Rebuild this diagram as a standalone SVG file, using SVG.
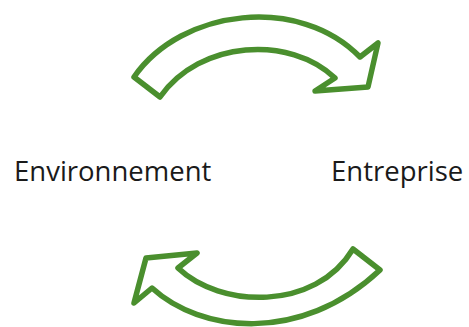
<svg xmlns="http://www.w3.org/2000/svg" width="469" height="327" viewBox="0 0 469 327">
<style>
.arrow{fill:#ffffff;stroke:#4a8f2e;stroke-width:5.5;stroke-linejoin:round}
.label{font-family:"Open Sans","Noto Sans",sans-serif;font-size:27.5px;fill:#1a1a1a}
</style>
<rect width="469" height="327" fill="#ffffff"/>
<g id="connectors">
<path id="arrow-top" class="arrow" d="M134,77 C182,8 300,-5 360,57 L378,43 L368,87 L315,91 L335,78 C290,35 200,40 160,97 Z"/>
<path id="arrow-bottom" class="arrow" d="M353,249 C315,312 220,308 178,268 L197,253 L146,258 L134,303 L152,288 C200,332 300,345 380,270 Z"/>
</g>
<g id="node-environnement"><text class="label" x="14" y="181">Environnement</text></g>
<g id="node-entreprise"><text class="label" x="331" y="181">Entreprise</text></g>
</svg>
